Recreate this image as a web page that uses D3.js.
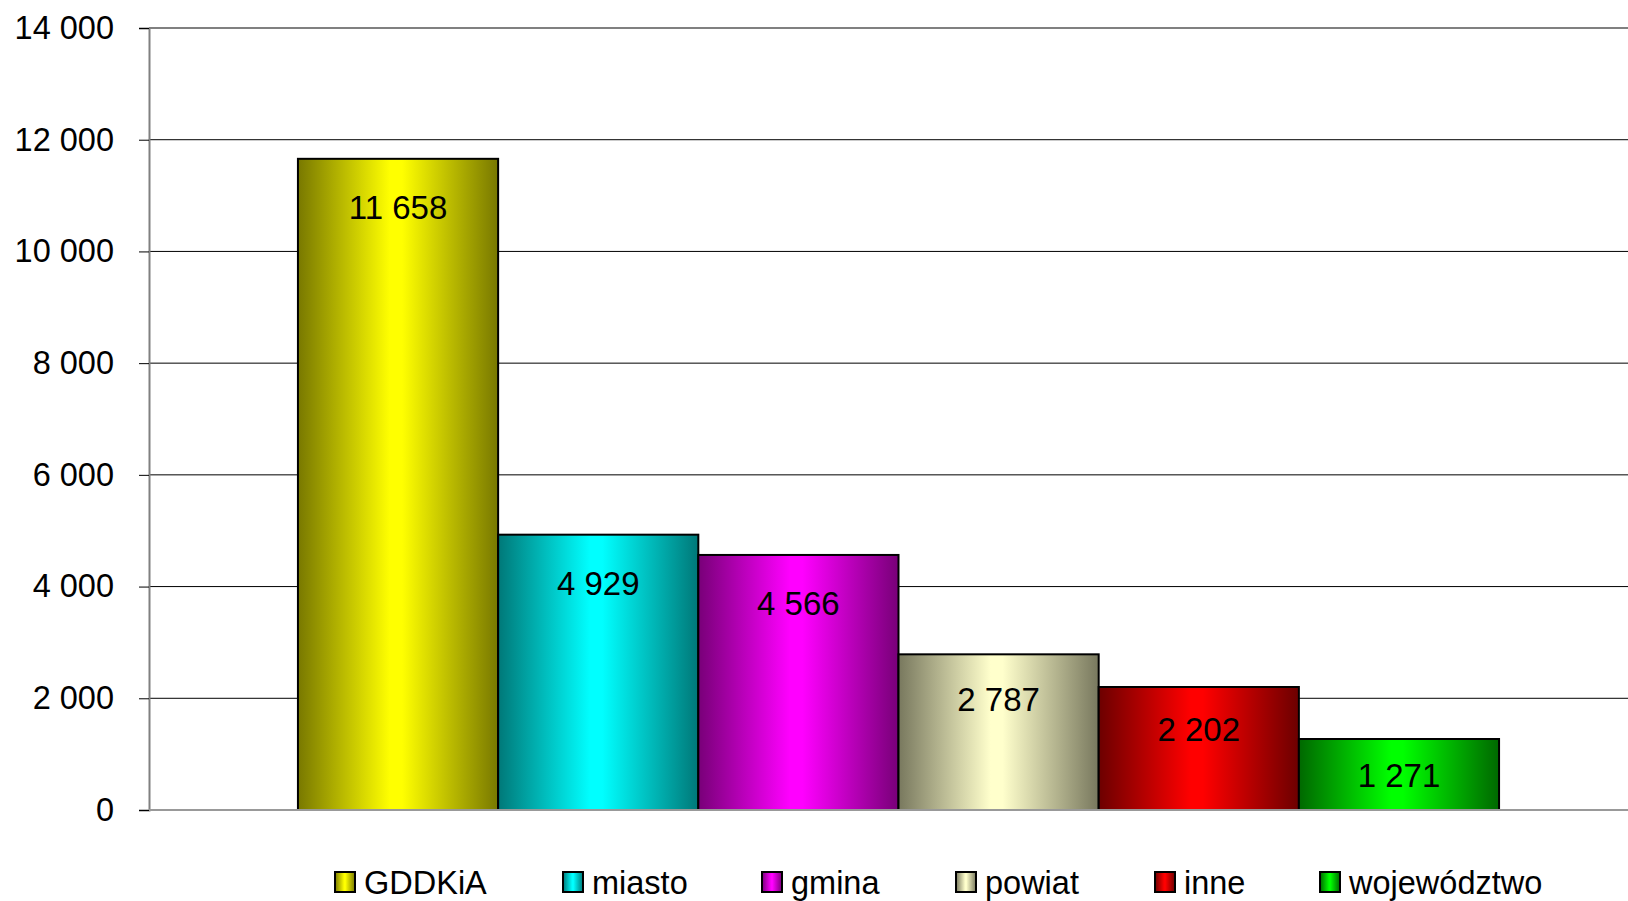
<!DOCTYPE html>
<html>
<head>
<meta charset="utf-8">
<script src="https://cdn.jsdelivr.net/npm/d3@7"></script>
<style>
  body { margin: 0; background: #fff; }
  text { font-family: "Liberation Sans", Arial, sans-serif; fill: #000; }
</style>
</head>
<body>
<script>
// data
var series = ["GDDKiA", "miasto", "gmina", "powiat", "inne", "województwo"];
var values = [11658, 4929, 4566, 2787, 2202, 1271];
var yTicks = [0, 2000, 4000, 6000, 8000, 10000, 12000, 14000];
var darkColors = ["#787800", "#007878", "#780078", "#78785e", "#6c0000", "#006800"];
var brightColors = ["#ffff00", "#00ffff", "#ff00ff", "#ffffcc", "#ff0000", "#00ff00"];

var svgWidth = 1628;
var svgHeight = 901;

var margin = { top: 28, right: -20, bottom: 91, left: 149 };
var width = svgWidth - margin.left - margin.right;
var height = svgHeight - margin.top - margin.bottom;

var svg = d3.select("body")
  .append("svg")
  .attr("width", svgWidth)
  .attr("height", svgHeight);

var defs = svg.append("defs");
series.forEach(function(s, i) {
  var g = defs.append("linearGradient")
    .attr("id", "grad" + i)
    .attr("x1", "0%").attr("x2", "100%")
    .attr("y1", "0%").attr("y2", "0%");
  g.append("stop").attr("offset", "0%").attr("stop-color", darkColors[i]);
  g.append("stop").attr("offset", "46%").attr("stop-color", brightColors[i]);
  g.append("stop").attr("offset", "52%").attr("stop-color", brightColors[i]);
  g.append("stop").attr("offset", "100%").attr("stop-color", darkColors[i]);
});

var chartGroup = svg.append("g")
  .attr("transform", `translate(${margin.left}, ${margin.top})`);

var yScale = d3.scaleLinear()
  .domain([0, 14000])
  .range([height, 0]);

// one category holding six series
var x0 = d3.scaleBand()
  .domain(["all"])
  .range([0, width])
  .paddingOuter(0.124);

var x1 = d3.scaleBand()
  .domain(series)
  .range([0, x0.bandwidth()]);

// gridlines
chartGroup.selectAll(".grid")
  .data(yTicks.filter(d => d > 0))
  .enter()
  .append("line")
  .attr("x1", 0)
  .attr("x2", width)
  .attr("y1", d => yScale(d))
  .attr("y2", d => yScale(d))
  .attr("stroke", d => d === 14000 ? "#808080" : "#000")
  .attr("stroke-width", d => d === 14000 ? 2 : 1);

// bars
var barGroup = chartGroup.append("g")
  .attr("transform", `translate(${x0("all")}, 0)`);

barGroup.selectAll("rect")
  .data(values)
  .enter()
  .append("rect")
  .attr("x", (d, i) => x1(series[i]))
  .attr("y", d => yScale(d))
  .attr("width", x1.bandwidth())
  .attr("height", d => height - yScale(d))
  .attr("fill", (d, i) => `url(#grad${i})`)
  .attr("stroke", "#000")
  .attr("stroke-width", 2);

// value labels
var fmt = d => d3.format(",")(d).replace(/,/g, " ");
barGroup.selectAll(".val")
  .data(values)
  .enter()
  .append("text")
  .attr("x", (d, i) => x1(series[i]) + x1.bandwidth() / 2)
  .attr("y", function(d) {
    var h = height - yScale(d);
    return yScale(d) + Math.min(60, 40 + h * 0.11);
  })
  .attr("text-anchor", "middle")
  .attr("font-size", 33)
  .text(fmt);

// y axis
var leftAxis = d3.axisLeft(yScale)
  .tickValues(yTicks)
  .tickSize(10)
  .tickPadding(25)
  .tickFormat(fmt);

var yAxis = chartGroup.append("g").call(leftAxis);
yAxis.select(".domain").attr("stroke", "#808080").attr("stroke-width", 2);
yAxis.selectAll(".tick line").attr("stroke", "#000");
yAxis.selectAll(".tick text")
  .attr("font-size", 32.5)
  .attr("font-family", "Liberation Sans, Arial, sans-serif")
  .attr("fill", "#000");

// zero baseline
chartGroup.append("line")
  .attr("x1", 0)
  .attr("x2", width)
  .attr("y1", yScale(0))
  .attr("y2", yScale(0))
  .attr("stroke", "#999")
  .attr("stroke-width", 2);

// legend
var legendLeft = [335, 563, 762, 956, 1155, 1320];
var legend = svg.append("g");
var items = legend.selectAll("g")
  .data(series)
  .enter()
  .append("g")
  .attr("transform", (d, i) => `translate(${legendLeft[i]}, 872)`);

items.append("rect")
  .attr("width", 20)
  .attr("height", 20)
  .attr("fill", (d, i) => `url(#grad${i})`)
  .attr("stroke", "#000")
  .attr("stroke-width", 2);

items.append("text")
  .attr("x", 29)
  .attr("y", 22)
  .attr("font-size", 32.5)
  .text(d => d);
</script>
</body>
</html>
